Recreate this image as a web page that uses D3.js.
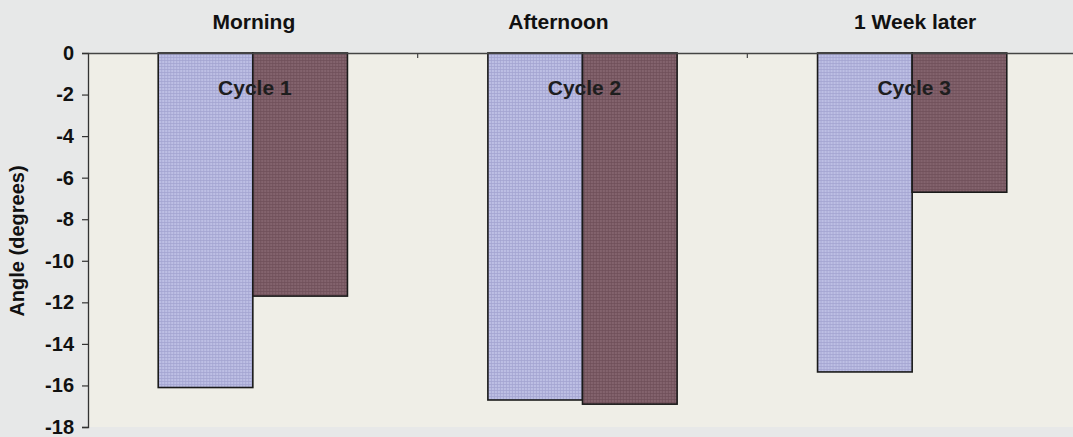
<!DOCTYPE html>
<html>
<head>
<meta charset="utf-8">
<script src="https://cdn.jsdelivr.net/npm/d3@7"></script>
<style>
  html, body { margin: 0; padding: 0; background: #e7e8e7; }
  svg { display: block; }
</style>
</head>
<body>
<svg id="chart" width="1073" height="437"></svg>
<script>
// ---- data ----
const cycles = ["Cycle 1", "Cycle 2", "Cycle 3"];
const periods = ["Morning", "Afternoon", "1 Week later"];
const series = ["A", "B"];
const seriesA = [-16.1, -16.7, -15.35];
const seriesB = [-11.7, -16.9, -6.7];
const yTicks = [0, -2, -4, -6, -8, -10, -12, -14, -16, -18];
const yLabel = "Angle (degrees)";

const svg = d3.select("#chart");
const W = 1073, H = 437;
const m = { left: 88, top: 53, right: 1077, bottom: 427 };

const x = d3.scaleBand().domain(cycles).range([m.left, m.right]).paddingInner(0.426).paddingOuter(0.213);
const xi = d3.scaleBand().domain(series).range([0, x.bandwidth()]).padding(0);
const y = d3.scaleLinear().domain([0, -18]).range([m.top, m.bottom]);

// patterns
const defs = svg.append("defs");
function makePattern(id, base, line, light) {
  const p = defs.append("pattern").attr("id", id).attr("patternUnits", "userSpaceOnUse")
    .attr("width", 3).attr("height", 3);
  p.append("rect").attr("width", 3).attr("height", 3).attr("fill", base);
  p.append("line").attr("x1", 0).attr("y1", 0.5).attr("x2", 3).attr("y2", 0.5).attr("stroke", line).attr("stroke-width", 0.7);
  p.append("line").attr("x1", 0.5).attr("y1", 0).attr("x2", 0.5).attr("y2", 3).attr("stroke", line).attr("stroke-width", 0.7);
  p.append("rect").attr("x", 1.5).attr("y", 1.5).attr("width", 1).attr("height", 1).attr("fill", light);
}
makePattern("patA", "#b9bbe2", "#a2a4d0", "#c9cbec");
makePattern("patB", "#80606a", "#6e4f59", "#8c6c75");
const fills = { A: "url(#patA)", B: "url(#patB)" };

// background
svg.append("rect").attr("width", W).attr("height", H).attr("fill", "#e7e8e8");
svg.append("rect").attr("x", m.left).attr("y", m.top).attr("width", W - m.left).attr("height", m.bottom - m.top)
  .attr("fill", "#efeee7");

// bars
const g = svg.append("g");
const groups = g.selectAll("g.grp").data(cycles).join("g").attr("class", "grp")
  .attr("transform", d => `translate(${x(d)},0)`);
groups.selectAll("rect").data((d, i) => [{ k: "A", v: seriesA[i] }, { k: "B", v: seriesB[i] }]).join("rect")
  .attr("x", d => xi(d.k))
  .attr("y", y(0))
  .attr("width", xi.bandwidth())
  .attr("height", d => y(d.v) - y(0))
  .attr("fill", d => fills[d.k])
  .attr("stroke", "#1a1a1a")
  .attr("stroke-width", 1.6);

const font = "Liberation Sans, Arial, sans-serif";

// y axis
const yAxis = d3.axisLeft(y).tickValues(yTicks).tickSize(6).tickPadding(8).tickFormat(d3.format("d"));
const ya = svg.append("g").attr("transform", `translate(${m.left},0)`).call(yAxis);
ya.select(".domain").attr("stroke", "#333").attr("stroke-width", 1.3);
ya.selectAll(".tick line").attr("stroke", "#333").attr("stroke-width", 1.2);
ya.selectAll(".tick text").attr("font-family", font)
  .attr("font-weight", "bold").attr("font-size", 20).attr("fill", "#111")
  .text(d => d === 0 ? "0" : "-" + Math.abs(d));

// top category axis (at zero)
const xAxis = d3.axisBottom(x).tickSize(0).tickFormat("");
const xa = svg.append("g").attr("transform", `translate(0,${y(0)})`).call(xAxis);
xa.select(".domain").attr("stroke", "#444").attr("stroke-width", 1.3);
const bounds = cycles.slice(1).map(c => x(c) - x.step() * x.paddingInner() / 2);
xa.selectAll("line.sep").data(bounds).join("line").attr("class", "sep")
  .attr("x1", d => d).attr("x2", d => d).attr("y1", 0).attr("y2", 5)
  .attr("stroke", "#444").attr("stroke-width", 1.2);

// period labels above
const periodDx = [1, -24, 3];
svg.append("g").selectAll("text").data(periods).join("text")
  .attr("x", (d, i) => x(cycles[i]) + x.bandwidth() / 2 + periodDx[i])
  .attr("y", 29)
  .attr("text-anchor", "middle")
  .attr("font-family", font)
  .attr("font-weight", "bold").attr("font-size", 21).attr("fill", "#111")
  .text(d => d);

// cycle labels
svg.append("g").selectAll("text").data(cycles).join("text")
  .attr("x", d => x(d) + x.bandwidth() / 2 + 2)
  .attr("y", 95)
  .attr("text-anchor", "middle")
  .attr("font-family", font)
  .attr("font-weight", "bold").attr("font-size", 21).attr("fill", "#1e1e1e")
  .text(d => d);

// y label
svg.append("text")
  .attr("transform", `translate(24,${(m.top + m.bottom) / 2 + 1}) rotate(-90)`)
  .attr("text-anchor", "middle")
  .attr("font-family", font)
  .attr("font-weight", "bold").attr("font-size", 20).attr("fill", "#111")
  .text(yLabel);
</script>
</body>
</html>
